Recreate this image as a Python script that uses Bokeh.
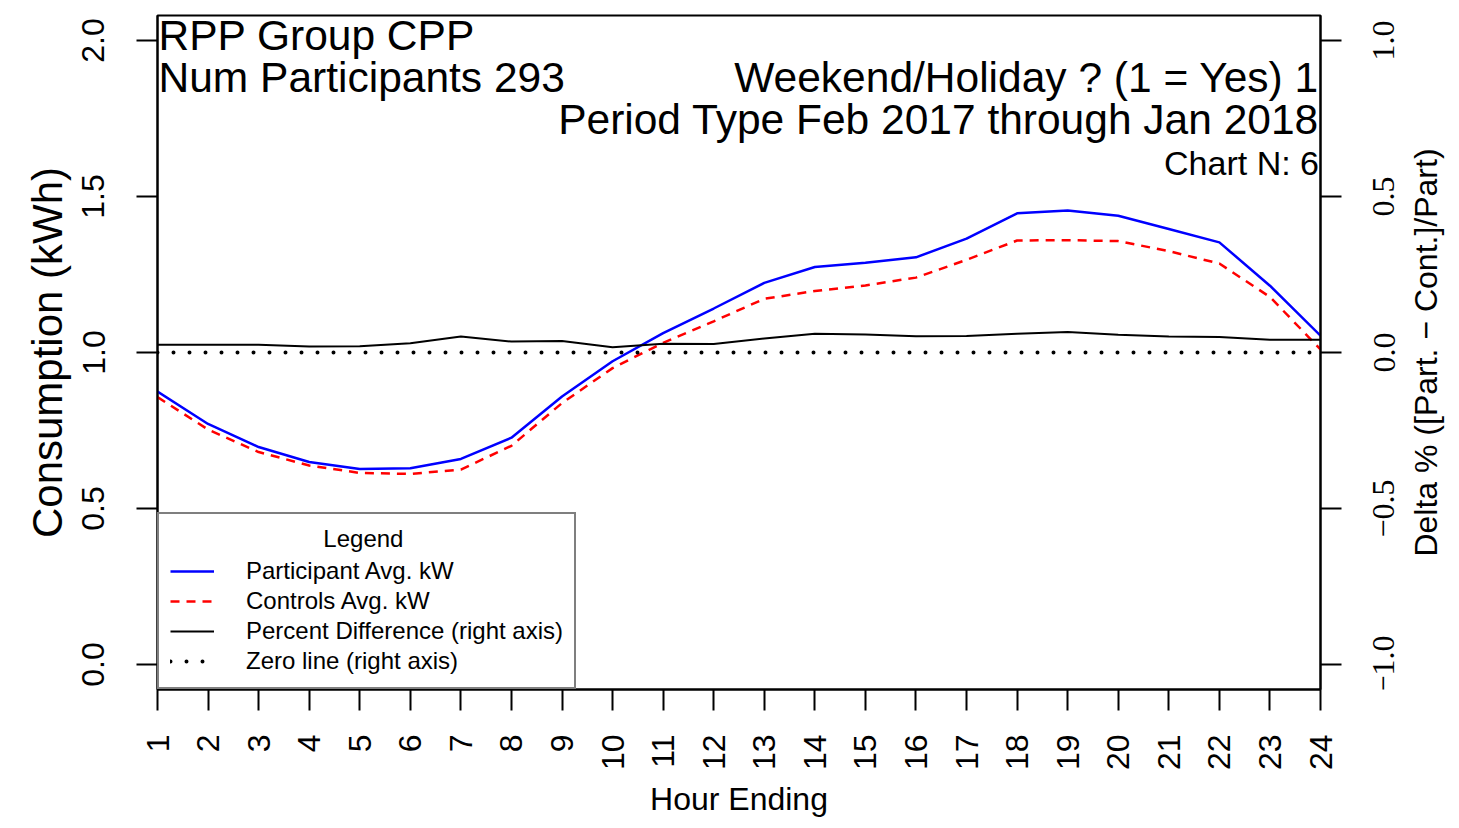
import math
from bokeh.plotting import figure
from bokeh.layouts import row
from bokeh.models import (Range1d, LinearAxis, FixedTicker, Label, LabelSet, Legend,
                          LegendItem, ColumnDataSource)
from bokeh.embed import file_html
from bokeh.resources import INLINE

# ---------------- data ----------------
hours = list(range(1, 25))
participant = [0.875, 0.771, 0.697, 0.649, 0.627, 0.629, 0.659, 0.727, 0.859, 0.972,
               1.062, 1.141, 1.223, 1.274, 1.288, 1.305, 1.365, 1.446, 1.455, 1.438,
               1.396, 1.353, 1.214, 1.054]
controls = [0.857, 0.753, 0.681, 0.638, 0.614, 0.611, 0.625, 0.701, 0.838, 0.950,
            1.031, 1.100, 1.172, 1.197, 1.215, 1.240, 1.297, 1.359, 1.360, 1.357,
            1.325, 1.285, 1.178, 1.010]
pct_diff = [0.025, 0.025, 0.025, 0.019, 0.020, 0.030, 0.051, 0.035, 0.037, 0.017,
            0.028, 0.027, 0.045, 0.060, 0.058, 0.052, 0.053, 0.060, 0.066, 0.057,
            0.051, 0.050, 0.041, 0.041]
zero_line = [0.0] * 24

left_ticks = [0.0, 0.5, 1.0, 1.5, 2.0]
left_tick_labels = ["0.0", "0.5", "1.0", "1.5", "2.0"]
right_ticks = [-1.0, -0.5, 0.0, 0.5, 1.0]
right_tick_labels = ["\u22121.0", "\u22120.5", "0.0", "0.5", "1.0"]

title_lines_left = ["RPP Group CPP", "Num Participants 293"]
title_lines_right = ["Weekend/Holiday ? (1 = Yes) 1", "Period Type Feb 2017 through Jan 2018"]
chart_n_text = "Chart N: 6"
right_axis_title = "Delta % ([Part. \u2212 Cont.]/Part)"
legend_labels = ["Participant Avg. kW", "Controls Avg. kW",
                 "Percent Difference (right axis)", "Zero line (right axis)"]

FONT = "Liberation Sans"
LEFT_RANGE = (-0.08, 2.08)
RIGHT_RANGE = (-1.08, 1.08)

p = figure(width=1344, height=820, output_backend="svg", toolbar_location=None,
           x_range=Range1d(1, 24), y_range=Range1d(*LEFT_RANGE),
           min_border_left=157, min_border_right=24, min_border_top=15,
           min_border_bottom=131, background_fill_color="white",
           border_fill_color="white", y_axis_location=None, x_axis_location=None)
p.extra_y_ranges = {"delta": Range1d(*RIGHT_RANGE)}
p.grid.visible = False
p.outline_line_color = "black"
p.outline_line_width = 2


def style_axis(ax, fs):
    ax.axis_line_color = "black"
    ax.axis_line_width = 2
    ax.major_tick_line_color = "black"
    ax.major_tick_line_width = 2
    ax.major_tick_out = 21
    ax.major_tick_in = 0
    ax.minor_tick_line_color = None
    ax.major_label_text_font = FONT
    ax.major_label_text_font_size = "32px"
    ax.major_label_text_color = "black"
    ax.axis_label_text_font = FONT
    ax.axis_label_text_font_size = fs
    ax.axis_label_text_font_style = "normal"
    ax.axis_label_text_color = "black"


xaxis = LinearAxis(ticker=FixedTicker(ticks=hours), axis_label="Hour Ending")
style_axis(xaxis, "32px")
xaxis.major_label_orientation = math.pi / 2
xaxis.major_label_standoff = 24
xaxis.axis_label_standoff = 8
p.add_layout(xaxis, "below")

yaxis = LinearAxis(ticker=FixedTicker(ticks=left_ticks), axis_label="Consumption (kWh)")
style_axis(yaxis, "42px")
yaxis.major_label_overrides = {t: s for t, s in zip(left_ticks, left_tick_labels)}
yaxis.major_label_orientation = "vertical"
yaxis.major_label_standoff = 32
yaxis.axis_label_standoff = 9
p.add_layout(yaxis, "left")

# right axis: tick marks here, its labels are drawn in the side panel below
raxis = LinearAxis(y_range_name="delta", ticker=FixedTicker(ticks=right_ticks))
style_axis(raxis, "32px")
raxis.major_label_overrides = {t: "" for t in right_ticks}
raxis.major_label_text_font_size = "0px"
raxis.major_label_standoff = 0
p.add_layout(raxis, "right")

r_part = p.line(hours, participant, line_color="#0000FF", line_width=2.5)
r_ctrl = p.line(hours, controls, line_color="#FF0000", line_width=2.5, line_dash="9 7")
r_diff = p.line(hours, pct_diff, line_color="black", line_width=2, y_range_name="delta")
r_zero = p.line(hours, zero_line, line_color="black", line_width=4, line_dash="0 16",
                line_cap="round", y_range_name="delta")

# title texts
for i, t in enumerate(title_lines_left):
    p.add_layout(Label(x=1.02, y=2.015 - 0.1335 * i, text=t, text_align="left",
                       text_baseline="alphabetic", text_font=FONT,
                       text_font_size="42.5px", text_color="black"))
for i, t in enumerate(title_lines_right):
    p.add_layout(Label(x=23.97, y=1.882 - 0.1345 * i, text=t, text_align="right",
                       text_baseline="alphabetic", text_font=FONT,
                       text_font_size="42.5px", text_color="black"))
p.add_layout(Label(x=23.97, y=1.607, text=chart_n_text, text_align="right",
                   text_baseline="alphabetic", text_font=FONT,
                   text_font_size="34px", text_color="black"))

legend = Legend(items=[LegendItem(label=l, renderers=[r]) for l, r in
                       zip(legend_labels, [r_part, r_ctrl, r_diff, r_zero])],
                location="bottom_left", margin=0, padding=11, spacing=0,
                glyph_width=44, glyph_height=30, label_height=30, label_standoff=32,
                title="\u00a0" * 23 + "Legend", title_standoff=3,
                border_line_color="black", border_line_width=2,
                background_fill_color="white", background_fill_alpha=1.0)
legend.label_text_font = FONT
legend.label_text_font_size = "24px"
legend.label_text_color = "black"
legend.title_text_font = FONT
legend.title_text_font_size = "24px"
legend.title_text_font_style = "normal"
legend.title_text_color = "black"
p.add_layout(legend, "center")

# side panel carrying the right-axis tick labels and title (read bottom-to-top)
p2 = figure(width=107, height=820, output_backend="svg", toolbar_location=None,
            x_range=Range1d(0, 1), y_range=Range1d(*RIGHT_RANGE),
            min_border_left=0, min_border_right=0, min_border_top=15,
            min_border_bottom=131, x_axis_location=None, y_axis_location=None,
            background_fill_color="white", border_fill_color="white")
p2.outline_line_color = None
p2.grid.visible = False
rsrc = ColumnDataSource(dict(x=[0] * len(right_ticks), y=right_ticks, t=right_tick_labels))
p2.add_layout(LabelSet(x="x", y="y", text="t", source=rsrc,
                       angle=math.pi / 2, x_offset=50, text_align="center",
                       text_baseline="alphabetic", text_font=FONT,
                       text_font_size="32px", text_color="black"))
p2.add_layout(Label(x=0, y=0.0, text=right_axis_title,
                    angle=math.pi / 2, x_offset=81, text_align="center",
                    text_baseline="alphabetic", text_font=FONT,
                    text_font_size="32px", text_color="black"))

open("out.html", "w").write(file_html(row(p, p2), INLINE))
